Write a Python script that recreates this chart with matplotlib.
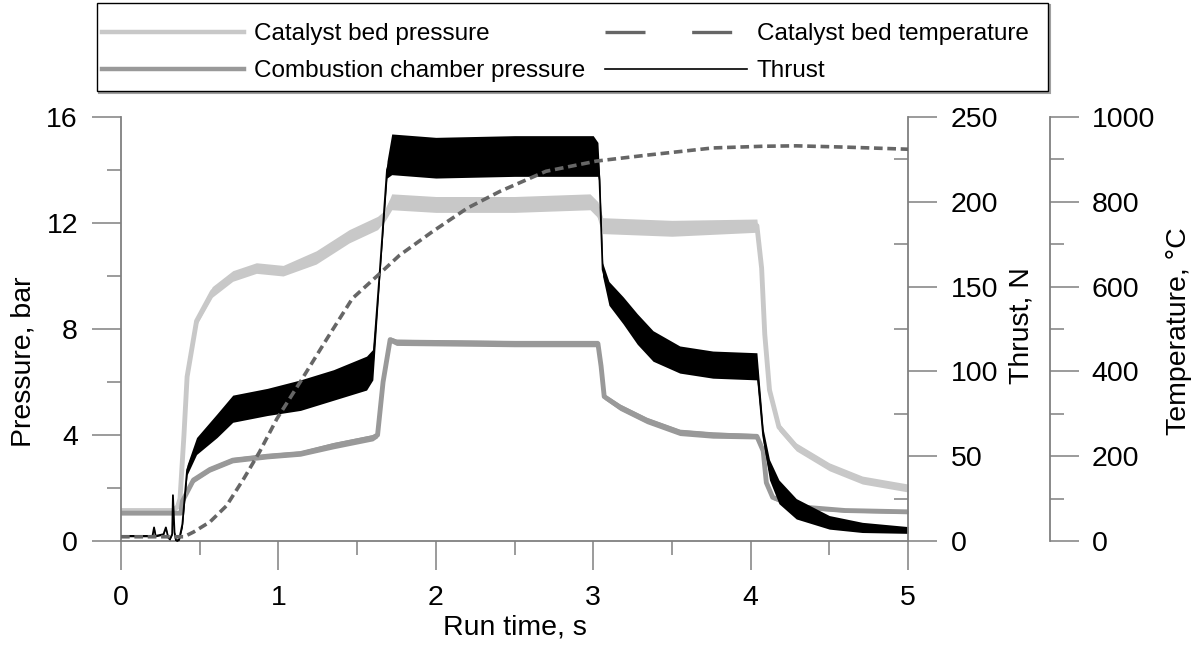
import matplotlib
matplotlib.use("Agg")
import matplotlib.pyplot as plt
from matplotlib.lines import Line2D
from matplotlib.patches import Rectangle
from matplotlib.ticker import MultipleLocator

plt.rcParams["font.family"] = ["Liberation Sans", "DejaVu Sans"]

# Catalyst bed pressure, bar (centre value + half-width of the noise band)
t_cat = [0.00, 0.33, 0.36, 0.375, 0.40, 0.42, 0.48, 0.58, 0.71, 0.86, 1.03, 1.24,
         1.45, 1.63, 1.68, 1.72, 2.00, 2.50, 2.98, 3.03, 3.06, 3.50, 4.04, 4.07,
         4.09, 4.12, 4.18, 4.29, 4.50, 4.71, 5.00]
p_cat = [1.15, 1.15, 1.3, 1.6, 4.0, 6.2, 8.3, 9.4, 10.0, 10.3, 10.2, 10.7,
         11.5, 12.0, 12.3, 12.8, 12.7, 12.7, 12.8, 12.5, 11.9, 11.8, 11.9, 10.3,
         7.8, 5.7, 4.3, 3.55, 2.8, 2.3, 2.0]
w_cat = [0.05, 0.05, 0.05, 0.05, 0.05, 0.1, 0.15, 0.2, 0.2, 0.2, 0.2, 0.25,
         0.25, 0.25, 0.2, 0.3, 0.3, 0.3, 0.3, 0.3, 0.3, 0.3, 0.25, 0.15,
         0.15, 0.15, 0.15, 0.15, 0.15, 0.15, 0.15]

# Combustion chamber pressure, bar
t_cc = [0.00, 0.38, 0.39, 0.46, 0.565, 0.71, 0.93, 1.14, 1.35, 1.60, 1.63, 1.665,
        1.71, 1.75, 2.50, 3.03, 3.05, 3.07, 3.17, 3.34, 3.55, 3.76, 4.04, 4.08,
        4.10, 4.14, 4.29, 4.60, 5.00]
p_cc = [1.05, 1.05, 1.5, 2.3, 2.7, 3.05, 3.2, 3.3, 3.6, 3.9, 4.0, 6.0,
        7.6, 7.5, 7.45, 7.45, 6.6, 5.45, 5.05, 4.55, 4.1, 4.0, 3.95, 3.4,
        2.2, 1.65, 1.3, 1.15, 1.1]
w_cc = [0.03, 0.03, 0.05, 0.1, 0.1, 0.1, 0.1, 0.1, 0.12, 0.12, 0.1, 0.05,
        0.1, 0.12, 0.12, 0.12, 0.08, 0.1, 0.12, 0.12, 0.12, 0.12, 0.1, 0.08,
        0.08, 0.08, 0.08, 0.06, 0.06]

# Thrust, N
t_thr = [0.00, 0.20, 0.21, 0.22, 0.27, 0.285, 0.30, 0.31, 0.325, 0.33, 0.34, 0.35,
         0.37, 0.39, 0.42, 0.48, 0.61, 0.71, 0.93, 1.14, 1.35, 1.56, 1.60, 1.645,
         1.69, 1.72, 2.00, 2.50, 3.00, 3.03, 3.04, 3.06, 3.10, 3.19, 3.28, 3.38,
         3.55, 3.76, 4.04, 4.08, 4.12, 4.18, 4.29, 4.50, 4.71, 5.00]
f_thr = [3, 3, 8, 3, 4, 8, 2, 1, 4, 27, 5, 0,
         1, 10, 42, 56, 68, 78, 82, 86, 92, 99, 104, 160,
         219, 228, 226, 227, 227, 225, 213, 160, 146, 136, 125, 115,
         107, 104, 103, 62, 42, 29, 19, 11, 8, 6.5]
w_thr = [0.5, 0.5, 0.5, 0.5, 0.5, 0.5, 0.5, 0.5, 0.5, 0.5, 0.5, 0.5,
         0.5, 2, 3, 5, 7, 8, 8, 9, 9, 10, 9, 3,
         5, 12, 12, 12, 12, 10, 4, 4, 7, 8, 9, 9,
         8, 8, 8, 4, 6, 7, 6, 4, 3, 2]

# Catalyst bed temperature, deg C
t_tmp = [0.00, 0.40, 0.46, 0.565, 0.67, 0.78, 0.88, 0.99, 1.14, 1.31, 1.47, 1.63,
         1.77, 1.98, 2.20, 2.41, 2.70, 3.02, 3.34, 3.76, 4.08, 4.29, 4.60, 5.00]
T_tmp = [10, 10, 21, 45, 83, 147, 210, 288, 376, 478, 572, 626,
         674, 730, 785, 825, 872, 896, 910, 927, 931, 932, 929, 924]

LIGHT = "#c8c8c8"
MID = "#999999"
DARK = "#666666"
AXC = "#808080"
FS = 20.5

fig = plt.figure(figsize=(11.99, 6.5), dpi=100)
ax = fig.add_axes([121 / 1199, 109 / 650, 787 / 1199, 424 / 650])
ax_f = ax.twinx()
ax_t = ax.twinx()

# pressures
lo = [p - w for p, w in zip(p_cat, w_cat)]
hi = [p + w for p, w in zip(p_cat, w_cat)]
ax.fill_between(t_cat, lo, hi, color=LIGHT, lw=0)
ax.plot(t_cat, p_cat, color=LIGHT, lw=3.5, solid_joinstyle="round")
lo = [p - w for p, w in zip(p_cc, w_cc)]
hi = [p + w for p, w in zip(p_cc, w_cc)]
ax.fill_between(t_cc, lo, hi, color=MID, lw=0)
ax.plot(t_cc, p_cc, color=MID, lw=3.5, solid_joinstyle="round")

# thrust
lo = [f - w for f, w in zip(f_thr, w_thr)]
hi = [f + w for f, w in zip(f_thr, w_thr)]
ax_f.fill_between(t_thr, lo, hi, color="black", lw=0)
ax_f.plot(t_thr, f_thr, color="black", lw=1.3)

# temperature
ax_t.plot(t_tmp, T_tmp, color=DARK, lw=2.6, linestyle=(0, (2.4, 1.3)))

ax.set_xlim(0, 5)
ax.set_ylim(0, 16)
ax_f.set_ylim(0, 250)
ax_t.set_ylim(0, 1000)

for a in (ax, ax_f, ax_t):
    for s in a.spines.values():
        s.set_visible(False)
        s.set_color(AXC)
        s.set_linewidth(1.3)
ax.spines["left"].set_visible(True)
ax.spines["bottom"].set_visible(True)
ax_f.spines["right"].set_visible(True)
ax_t.spines["right"].set_visible(True)
ax_t.spines["right"].set_position(("axes", (1050 - 121) / 787))

ax.xaxis.set_major_locator(MultipleLocator(1))
ax.xaxis.set_minor_locator(MultipleLocator(0.5))
ax.yaxis.set_major_locator(MultipleLocator(4))
ax.yaxis.set_minor_locator(MultipleLocator(2))
ax_f.yaxis.set_major_locator(MultipleLocator(50))
ax_f.yaxis.set_minor_locator(MultipleLocator(25))
ax_t.yaxis.set_major_locator(MultipleLocator(200))
ax_t.yaxis.set_minor_locator(MultipleLocator(100))

ax.tick_params(axis="x", which="major", direction="out", length=21, width=1.1,
               color=AXC, labelsize=FS, pad=11)
ax.tick_params(axis="x", which="minor", direction="out", length=10, width=1.1, color=AXC)
ax.tick_params(axis="y", which="major", direction="out", length=21, width=1.1,
               color=AXC, labelsize=FS, pad=10)
ax.tick_params(axis="y", which="minor", direction="out", length=10, width=1.1, color=AXC)
ax_f.tick_params(axis="y", which="major", direction="out", length=21, width=1.1,
                 color=AXC, labelsize=FS, pad=10)
ax_f.tick_params(axis="y", which="minor", direction="in", length=10, width=1.1, color=AXC)
ax_t.tick_params(axis="y", which="major", direction="out", length=21, width=1.1,
                 color=AXC, labelsize=FS, pad=9)
ax_t.tick_params(axis="y", which="minor", direction="out", length=10, width=1.1, color=AXC)

# label coordinates: x label by its top edge, y labels by the edge next to the axis
ax.set_xlabel("Run time, s", fontsize=FS)
ax.xaxis.set_label_coords(0.5, -(614 - 541) / 424)
ax.set_ylabel("Pressure, bar", fontsize=FS)
ax.yaxis.set_label_coords(-(121 - 36) / 787, (541 - 362) / 424)
ax_f.set_ylabel("Thrust, N", fontsize=FS)
ax_f.yaxis.set_label_coords((1009 - 121) / 787, (541 - 326) / 424)
ax_t.set_ylabel("Temperature, °C", fontsize=FS)
ax_t.yaxis.set_label_coords((1166 - 121) / 787, (541 - 331) / 424)

# legend box with a grey drop shadow
box = (97, 3, 1048, 91)
fig.patches.append(Rectangle(((box[0] + 2) / 1199, 1 - (box[3] + 2) / 650),
                             (box[2] - box[0]) / 1199, (box[3] - box[1]) / 650,
                             transform=fig.transFigure, fill=False,
                             edgecolor="#a0a0a0", lw=1.5))
fig.patches.append(Rectangle((box[0] / 1199, 1 - box[3] / 650),
                             (box[2] - box[0]) / 1199, (box[3] - box[1]) / 650,
                             transform=fig.transFigure, facecolor="white",
                             edgecolor="black", lw=1.0))

handles = [
    Line2D([], [], color=LIGHT, lw=3.2),
    Line2D([], [], color=MID, lw=3.2),
    Line2D([], [], color=DARK, lw=2.4, linestyle=(0, (12, 14))),
    Line2D([], [], color="black", lw=1.2),
]
labels = ["Catalyst bed pressure", "Combustion chamber pressure",
          "Catalyst bed temperature", "Thrust"]
fig.legend(handles, labels, ncol=2, loc="upper left",
           bbox_to_anchor=(102 / 1199, 1 - 23 / 650), bbox_transform=fig.transFigure,
           frameon=False, borderpad=0, borderaxespad=0, fontsize=17.5,
           handlelength=5.85, handletextpad=0.4, columnspacing=0.8, labelspacing=0.62)

fig.savefig("out.png", dpi=100)
